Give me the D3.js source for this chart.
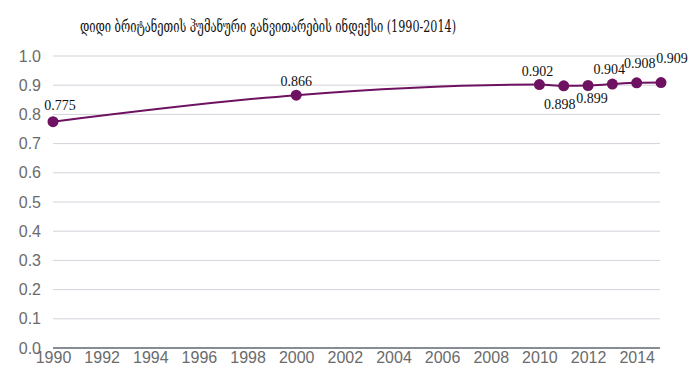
<!DOCTYPE html>
<html><head><meta charset="utf-8">
<script src="https://cdn.jsdelivr.net/npm/d3@7"></script>
<style>body{margin:0;background:#fff}svg{display:block}</style>
</head><body>
<script>
const title = "დიდი ბრიტანეთის ჰუმანური განვითარების ინდექსი (1990-2014)";
const years = [1990, 2000, 2010, 2011, 2012, 2013, 2014, 2015];
const hdi = [0.775, 0.866, 0.902, 0.898, 0.899, 0.904, 0.908, 0.909];
const xTicks = [1990, 1992, 1994, 1996, 1998, 2000, 2002, 2004, 2006, 2008, 2010, 2012, 2014];
const yTicks = [0, 0.1, 0.2, 0.3, 0.4, 0.5, 0.6, 0.7, 0.8, 0.9, 1.0];
// label placement (dx, dy) relative to each point
const labelOffsets = [[7,-12],[0,-9],[-2,-9],[-4,23],[4,18],[-3,-10],[3,-15],[11,-20]];

const W = 700, H = 381;
const svg = d3.select("body").append("svg").attr("width", W).attr("height", H);
const x = d3.scaleLinear().domain([1990, 2015]).range([53, 661]);
const y = d3.scaleLinear().domain([0, 1]).range([348, 56]);

svg.append("text").attr("x", 80).attr("y", 32)
  .attr("font-family", "'DejaVu Serif','Liberation Serif',serif").attr("font-size", 16)
  .attr("textLength", 376).attr("lengthAdjust", "spacingAndGlyphs")
  .attr("fill", "#111").text(title);

// grid
const g = svg.append("g");
g.selectAll("line.grid").data(yTicks.filter(d => d > 0)).join("line")
  .attr("x1", 53).attr("x2", 660).attr("y1", d => y(d)).attr("y2", d => y(d))
  .attr("stroke", "#d3d3dc").attr("stroke-width", 1);
g.append("line").attr("x1", 53).attr("x2", 660).attr("y1", y(0)).attr("y2", y(0))
  .attr("stroke", "#606670").attr("stroke-width", 1.5);

// y labels
const yAxis = svg.append("g").attr("transform", "translate(41,0)")
  .call(d3.axisLeft(y).tickValues(yTicks).tickFormat(d3.format(".1f")).tickSize(0).tickPadding(0));
yAxis.select(".domain").remove();
yAxis.selectAll("text").attr("font-family", "'Liberation Sans',Arial,sans-serif")
  .attr("font-size", 16).attr("fill", "#6b6b6b");

// x labels
const xAxis = svg.append("g").attr("transform", `translate(0,${y(0)})`)
  .call(d3.axisBottom(x).tickValues(xTicks).tickFormat(d3.format("d")).tickSize(0).tickPadding(4));
xAxis.select(".domain").remove();
xAxis.selectAll("text").attr("font-family", "'Liberation Sans',Arial,sans-serif")
  .attr("font-size", 16).attr("fill", "#6b6b6b");

const pts = years.map((yr, i) => ({yr, v: hdi[i], off: labelOffsets[i]}));
const line = d3.line().x(d => x(d.yr)).y(d => y(d.v)).curve(d3.curveMonotoneX);
svg.append("path").datum(pts).attr("d", line).attr("fill", "none")
  .attr("stroke", "#6e1160").attr("stroke-width", 2);
svg.selectAll("circle.pt").data(pts).join("circle")
  .attr("cx", d => x(d.yr)).attr("cy", d => y(d.v)).attr("r", 5.5).attr("fill", "#6e1160");
svg.selectAll("text.lbl").data(pts).join("text")
  .attr("x", d => x(d.yr) + d.off[0]).attr("y", d => y(d.v) + d.off[1])
  .attr("text-anchor", "middle")
  .attr("font-family", "'Liberation Serif','DejaVu Serif',serif").attr("font-size", 14)
  .attr("fill", "#111").text(d => d.v.toFixed(3));
</script>
</body></html>
